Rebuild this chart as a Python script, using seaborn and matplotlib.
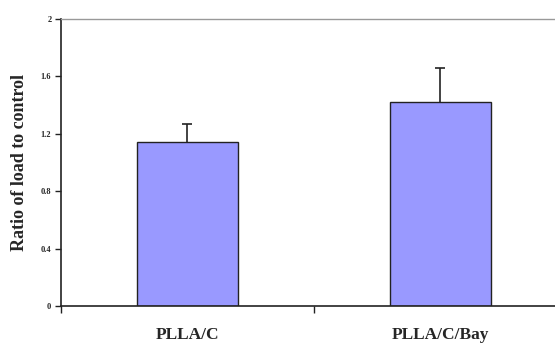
#!/usr/bin/env python3
"""
Bar chart: ratio of load to control for PLLA/C and PLLA/C/Bay.
"""

import numpy as np
import pandas as pd

import matplotlib
matplotlib.use("Agg")
import matplotlib.pyplot as plt
import seaborn as sns

groups = ["PLLA/C", "PLLA/C/Bay"]
ratio = [1.14, 1.42]
err_up = [0.125, 0.235]


def main() -> int:
    sns.set_style("white")
    plt.rcParams["font.family"] = ["Liberation Serif", "DejaVu Serif"]

    df = pd.DataFrame({"group": groups, "ratio": ratio})

    fig = plt.figure(figsize=(5.55, 3.43), dpi=100)
    ax = fig.add_axes([0.110, 0.108, 0.911, 0.837])

    sns.barplot(data=df, x="group", y="ratio", color="#9999FF", width=0.4,
                edgecolor="#222222", linewidth=1.0, saturation=1, ax=ax,
                errorbar=None)
    # upper-only error bars; hide the cap that would sit on the bar top
    _, caps, _ = ax.errorbar(np.arange(len(groups)), ratio,
                             yerr=[np.zeros(len(groups)), err_up],
                             fmt="none", ecolor="#222222", elinewidth=1.2,
                             capsize=3.5, capthick=1.2)
    caps[0].set_visible(False)

    ax.set_xlim(-0.5, 1.5)
    ax.set_ylim(0, 2)
    ax.set_yticks([0, 0.4, 0.8, 1.2, 1.6, 2])
    ax.set_yticklabels(["0", "0.4", "0.8", "1.2", "1.6", "2"],
                       fontsize=6, fontweight="bold")
    ax.set_xticks([0, 1])
    ax.set_xticklabels(groups, fontsize=12.5, fontweight="bold")
    ax.tick_params(axis="x", length=0, pad=15)
    ax.set_xticks([-0.5, 0.5, 1.5], minor=True)
    ax.tick_params(axis="x", which="minor", direction="out", length=5, width=1,
                   bottom=True, color="#222222")
    ax.tick_params(axis="y", direction="out", length=4, width=1, left=True,
                   color="#222222", pad=3)

    ax.set_xlabel("")
    ax.set_ylabel("Ratio of load to control", fontsize=13, fontweight="bold",
                  labelpad=9)

    for side in ["left", "bottom"]:
        ax.spines[side].set_color("#222222")
        ax.spines[side].set_linewidth(1.2)
    ax.spines["top"].set_color("#999999")
    ax.spines["top"].set_linewidth(1.0)
    ax.spines["right"].set_visible(False)

    fig.savefig("out.png", dpi=100)
    return 0


if __name__ == "__main__":
    raise SystemExit(main())
